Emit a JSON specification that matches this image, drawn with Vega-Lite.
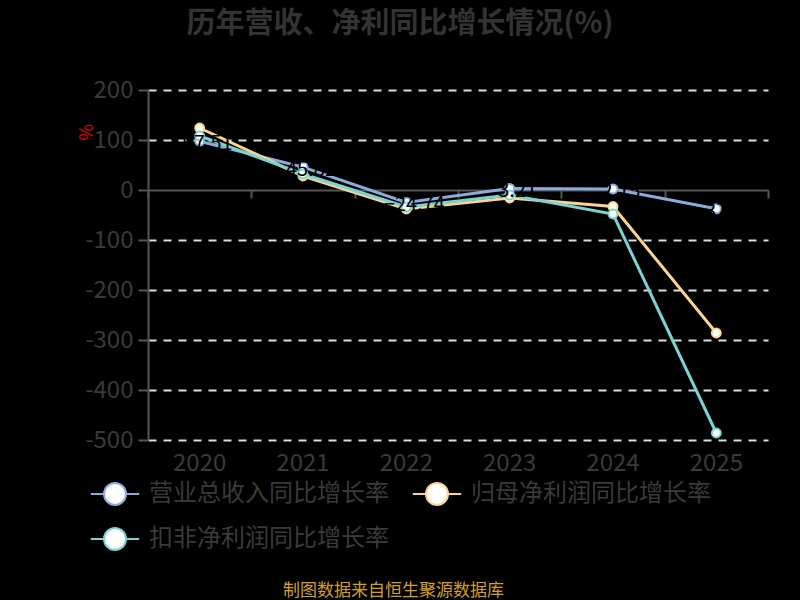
{
  "$schema": "https://vega.github.io/schema/vega-lite/v6.json",
  "autosize": {"type": "none"},
  "width": 620,
  "height": 350,
  "padding": {"left": 148, "top": 90, "right": 32, "bottom": 160},
  "background": "#000000",
  "title": {
    "text": "历年营收、净利同比增长情况(%)",
    "font": "Noto Sans CJK SC",
    "fontSize": 29,
    "fontWeight": "bold",
    "color": "#333333",
    "anchor": "middle",
    "frame": "group",
    "dx": -58,
    "offset": 39
  },
  "data": {
    "values": [
      {"year": "2020", "series": "营业总收入同比增长率", "value": 97.51},
      {"year": "2021", "series": "营业总收入同比增长率", "value": 45.82},
      {"year": "2022", "series": "营业总收入同比增长率", "value": -24.74},
      {"year": "2023", "series": "营业总收入同比增长率", "value": 3.21},
      {"year": "2024", "series": "营业总收入同比增长率", "value": 2.15},
      {"year": "2025", "series": "营业总收入同比增长率", "value": -37.52},
      {"year": "2020", "series": "归母净利润同比增长率", "value": 124},
      {"year": "2021", "series": "归母净利润同比增长率", "value": 28},
      {"year": "2022", "series": "归母净利润同比增长率", "value": -38},
      {"year": "2023", "series": "归母净利润同比增长率", "value": -16},
      {"year": "2024", "series": "归母净利润同比增长率", "value": -33},
      {"year": "2025", "series": "归母净利润同比增长率", "value": -286},
      {"year": "2020", "series": "扣非净利润同比增长率", "value": 108},
      {"year": "2021", "series": "扣非净利润同比增长率", "value": 32},
      {"year": "2022", "series": "扣非净利润同比增长率", "value": -34},
      {"year": "2023", "series": "扣非净利润同比增长率", "value": -10},
      {"year": "2024", "series": "扣非净利润同比增长率", "value": -48},
      {"year": "2025", "series": "扣非净利润同比增长率", "value": -486}
    ]
  },
  "encoding": {
    "x": {"field": "year", "type": "ordinal", "scale": {"paddingInner": 0, "paddingOuter": 0}},
    "y": {
      "field": "value",
      "type": "quantitative",
      "scale": {"domain": [-500, 200], "nice": false},
      "axis": {
        "values": [-500, -400, -300, -200, -100, 0, 100, 200],
        "labelExpr": "'' + datum.value",
        "title": "%",
        "titleColor": "#e00000",
        "titleFont": "Noto Sans CJK SC",
        "titleFontSize": 18,
        "titleFontWeight": "normal",
        "titleX": -61,
        "titleY": 42,
        "titleAlign": "center",
        "titleBaseline": "middle",
        "labelFont": "Noto Sans CJK SC",
        "labelFontSize": 24,
        "labelColor": "#3a3a3a",
        "labelPadding": 5,
        "domainColor": "#555555",
        "domainWidth": 2,
        "tickColor": "#555555",
        "tickSize": 10,
        "tickWidth": 2,
        "grid": true,
        "gridColor": {"condition": {"test": "datum.value === 0", "value": "transparent"}, "value": "#dddddd"},
        "gridDash": [8, 7],
        "gridWidth": 2
      }
    }
  },
  "layer": [
    {
      "mark": {"type": "line", "strokeWidth": 3},
      "encoding": {
        "x": {
          "field": "year",
          "type": "ordinal",
          "axis": {
            "orient": "bottom",
            "offset": -250,
            "labels": false,
            "title": null,
            "domainColor": "#555555",
            "domainWidth": 2,
            "tickColor": "#555555",
            "tickSize": 8,
            "tickWidth": 2,
            "tickBand": "extent",
            "grid": false
          }
        },
        "color": {
          "field": "series",
          "type": "nominal",
          "scale": {
            "domain": ["营业总收入同比增长率", "归母净利润同比增长率", "扣非净利润同比增长率"],
            "range": ["#8eaadb", "#fdd28e", "#78d3d3"]
          },
          "legend": {
            "orient": "none",
            "direction": "horizontal",
            "legendX": -56,
            "legendY": 381,
            "columns": 2,
            "columnPadding": 19,
            "rowPadding": 7,
            "title": null,
            "symbolType": "M-1.1,0L-0.5,0M0.5,0L1.1,0M0.5,0A0.5,0.5,0,1,1,-0.5,0A0.5,0.5,0,1,1,0.5,0Z",
            "symbolSize": 1936,
            "symbolStrokeWidth": 2,
            "symbolFillColor": "#ffffff",
            "labelFont": "Noto Sans CJK SC",
            "labelFontSize": 24,
            "labelColor": "#3a3a3a",
            "labelOffset": 11,
            "labelLimit": 400
          }
        }
      }
    },
    {
      "mark": {"type": "point", "filled": false, "fill": "#ffffff", "fillOpacity": 1, "size": 80, "strokeWidth": 2, "opacity": 1},
      "encoding": {
        "x": {"field": "year", "type": "ordinal", "axis": null},
        "color": {"field": "series", "type": "nominal"}
      }
    },
    {
      "transform": [{"filter": "datum.series === '营业总收入同比增长率'"}],
      "mark": {"type": "text", "color": "#000000", "font": "Noto Sans CJK SC", "fontSize": 20, "align": "center", "baseline": "middle", "dx": 8, "dy": 3},
      "encoding": {
        "x": {
          "field": "year",
          "type": "ordinal",
          "axis": {
            "orient": "bottom",
            "domain": false,
            "ticks": false,
            "grid": false,
            "labelAngle": 0,
            "labelFont": "Noto Sans CJK SC",
            "labelFontSize": 24,
            "labelColor": "#3a3a3a",
            "labelPadding": 11,
            "title": "制图数据来自恒生聚源数据库",
            "titleFont": "Noto Sans CJK SC",
            "titleFontSize": 17,
            "titleFontWeight": "normal",
            "titleColor": "#d4a020",
            "titleX": 245,
            "titleY": 150,
            "titleAlign": "center",
            "titleBaseline": "middle"
          }
        },
        "text": {"field": "value", "type": "quantitative", "format": ".2f"}
      }
    }
  ],
  "resolve": {"axis": {"x": "independent"}},
  "config": {
    "view": {"stroke": null}
  }
}
